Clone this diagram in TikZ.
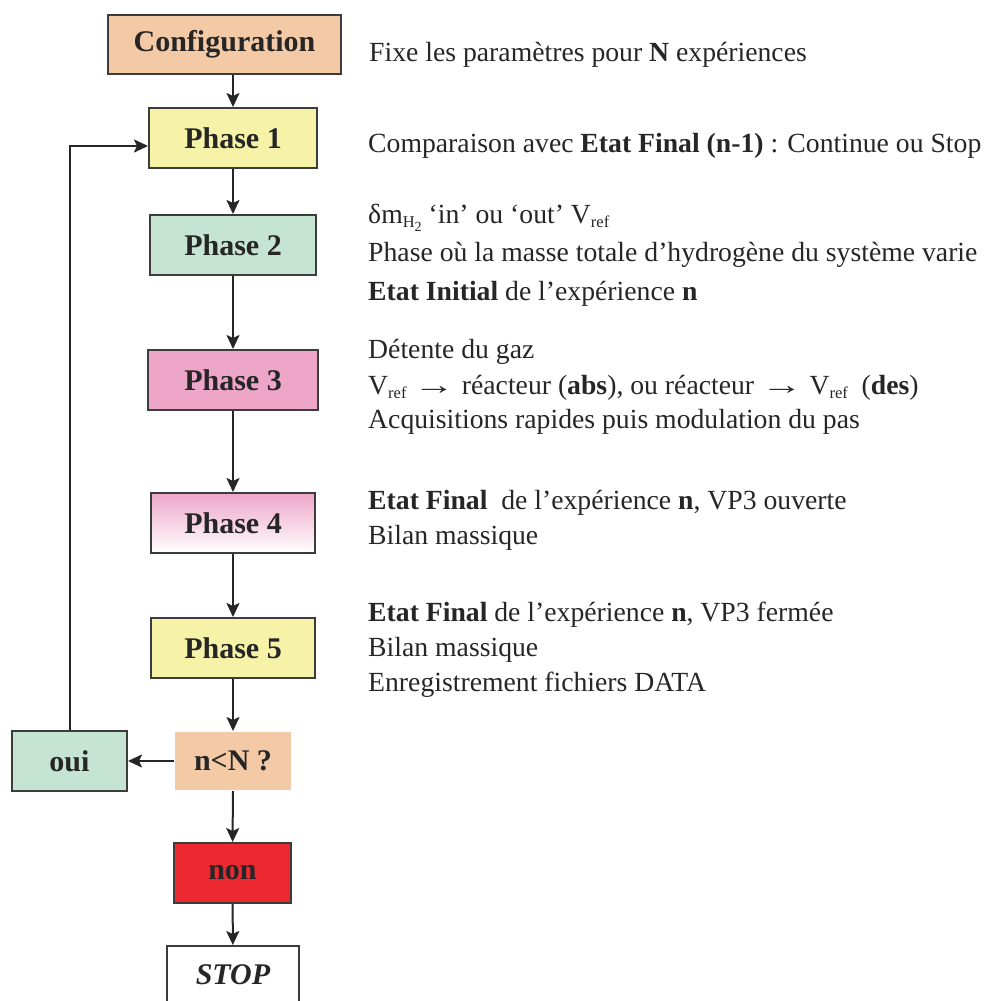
\documentclass[tikz,border=0pt]{standalone}
\usepackage{fontspec}
\setmainfont{Liberation Serif}
\usetikzlibrary{arrows.meta}
\definecolor{peach}{RGB}{244,202,166}
\definecolor{lyellow}{RGB}{246,243,168}
\definecolor{lgreen}{RGB}{198,228,212}
\definecolor{lpink}{RGB}{237,166,200}
\definecolor{redbox}{RGB}{236,40,48}
\definecolor{edge}{RGB}{60,60,60}
\newcommand{\subtxt}[1]{\raisebox{-4.5pt}{\fontsize{16.5}{16.5}\selectfont #1}}
\newcommand{\longarr}{\scalebox{1.5}[1]{→}}
\begin{document}
\begin{tikzpicture}[x=1pt,y=-1pt,
  box/.style={draw=edge, line width=2pt, inner sep=0pt, minimum height=60,
    font=\fontsize{30}{31}\selectfont\bfseries, text=black!85},
  arr/.style={line width=2pt, draw=black!85, -{Stealth[length=14pt,width=13pt,inset=3pt]}},
  txt/.style={anchor=base west, inner sep=0pt, font=\fontsize{27.7}{30}\selectfont, text=black!85}
]
\useasboundingbox (0,0) rectangle (983,1001);
% boxes
\node[box, fill=peach, minimum width=233, minimum height=59] (conf) at (224.5,44.5) {Configuration};
\node[box, fill=lyellow, minimum width=168] (p1) at (233,138) {Phase 1};
\node[box, fill=lgreen, minimum width=166] (p2) at (233,245) {Phase 2};
\node[box, fill=lpink, minimum width=170] (p3) at (233,380) {Phase 3};
\node[box, top color=lpink, bottom color=white, minimum width=164] (p4) at (233,523) {Phase 4};
\node[box, fill=lyellow, minimum width=164] (p5) at (233,648) {Phase 5};
\node[box, draw=none, fill=peach, minimum width=116, minimum height=58] (cond) at (233,761) {n<N ?};
\node[box, fill=lgreen, minimum width=115] (oui) at (69.5,761) {oui};
\node[box, fill=redbox, minimum width=117] (non) at (232.5,873) {non};
\node[box, fill=white, minimum width=132, minimum height=58, anchor=north, font=\fontsize{30}{31}\selectfont\bfseries\itshape] (stop) at (233,945) {STOP};
% connectors
\draw[arr] (conf.south -| p1) -- (p1);
\draw[arr] (p1) -- (p2);
\draw[arr] (p2) -- (p3);
\draw[arr] (p3) -- (p4);
\draw[arr] (p4) -- (p5);
\draw[arr] (p5) -- (cond);
\draw[arr] (cond) -- (non);
\draw[arr] (non) -- (stop);
\draw[arr] (cond) -- (oui);
\coordinate (fb) at (0,146);
\draw[arr] (oui.north) -- (oui.north |- fb) -- (p1.west |- fb);
% texts
\node[txt] (t0) at (369,61) {Fixe les paramètres pour \textbf{N} expériences};
\node[txt] (t1) at (368,152) {Comparaison avec \textbf{Etat Final (n-1)} : Continue ou Stop};
\node[txt] (t2a) at (368,223) {δm\subtxt{H\raisebox{-3.5pt}{\fontsize{14}{14}\selectfont 2}} ‘in’ ou ‘out’ V\subtxt{ref}};
\node[txt] (t2b) at (368,261) {Phase où la masse totale d’hydrogène du système varie};
\node[txt] (t2c) at (368,300) {\textbf{Etat Initial} de l’expérience \textbf{n}};
\node[txt] (t3a) at (368,358) {Détente du gaz};
\node[txt] (t3b) at (368,394) {V\subtxt{ref} \longarr{} réacteur (\textbf{abs}), ou réacteur \longarr{} V\subtxt{ref}~ (\textbf{des})};
\node[txt] (t3c) at (368,428) {Acquisitions rapides puis modulation du pas};
\node[txt] (t4a) at (368,509) {\textbf{Etat Final}~ de l’expérience \textbf{n}, VP3 ouverte};
\node[txt] (t4b) at (368,544) {Bilan massique};
\node[txt] (t5a) at (368,621) {\textbf{Etat Final} de l’expérience \textbf{n}, VP3 fermée};
\node[txt] (t5b) at (368,656) {Bilan massique};
\node[txt] (t5c) at (368,691) {Enregistrement fichiers DATA};
\end{tikzpicture}
\end{document}
